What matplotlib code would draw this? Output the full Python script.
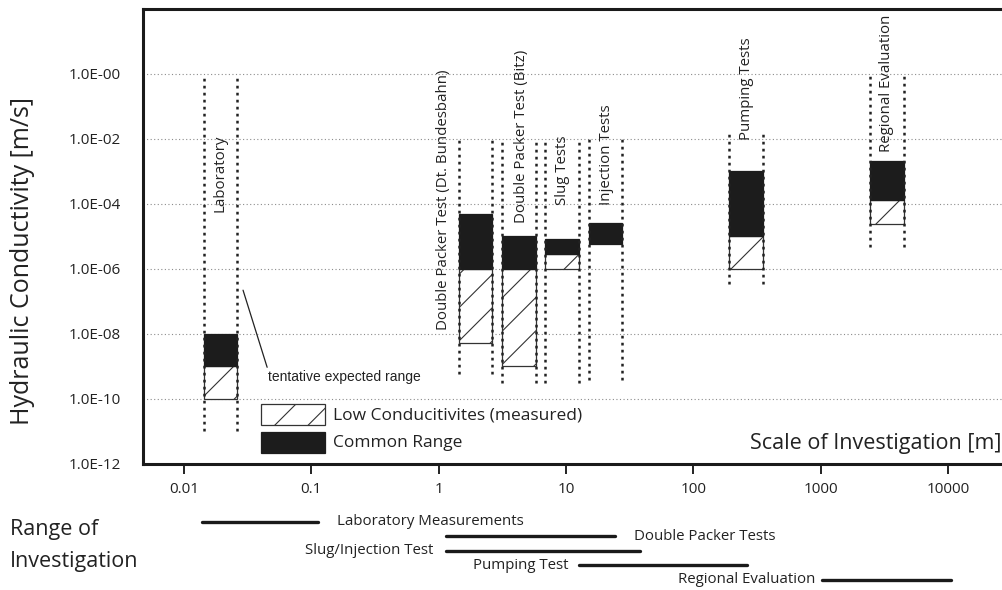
import matplotlib.pyplot as plt
from matplotlib.patches import Rectangle
import numpy as np

# methods shown in the chart (x: scale of investigation [m], y: hydraulic conductivity [m/s])
methods = [
    "Laboratory",
    "Double Packer Test (Dt. Bundesbahn)",
    "Double Packer Test (Bitz)",
    "Slug Tests",
    "Injection Tests",
    "Pumping Tests",
    "Regional Evaluation",
]
scale_min = [0.0143, 1.45, 3.15, 6.9, 15.2, 192, 2460]
scale_max = [0.0261, 2.61, 5.79, 12.6, 27.6, 352, 4500]
low_k_min = [1e-10, 5.2e-9, 1e-9, 1e-6, np.nan, 1e-6, 2.35e-5]
common_k_min = [1e-9, 1e-6, 1e-6, 2.9e-6, 5.9e-6, 1e-5, 1.3e-4]
common_k_max = [1e-8, 4.7e-5, 1e-5, 8e-6, 2.5e-5, 1e-3, 2.1e-3]
bracket_top = [1e0, 1e-2, 1e-2, 1e-2, 1e-2, 1.7e-2, 0.9]
bracket_bottom = [1e-11, 6e-10, 3e-10, 3e-10, 3.8e-10, 3.4e-7, 4.7e-6]

# range of investigation (lines below the chart)
range_names = [
    "Laboratory Measurements",
    "Double Packer Tests",
    "Slug/Injection Test",
    "Pumping Test",
    "Regional Evaluation",
]
range_min = [0.0139, 1.14, 1.14, 12.6, 1030]
range_max = [0.113, 24.3, 38, 267, 10600]

x_ticks = [0.01, 0.1, 1, 10, 100, 1000, 10000]
x_tick_labels = ["0.01", "0.1", "1", "10", "100", "1000", "10000"]
y_exponents = [0, -2, -4, -6, -8, -10, -12]
legend_labels = ["Low Conducitivites (measured)", "Common Range"]

# label layout (not data)
label_bottom = [5.5e-5, 1.3e-8, 2.5e-5, 9e-5, 9e-5, 8.9e-3, 3.8e-3]
label_dx = [0, -23, 2, 0, 1, 0, 0]
range_label_side = ["right", "right", "left", "left", "left"]
range_label_gap = [14, 14, 9, 7, 5]

FONT = "Open Sans"
BLACK = "#1c1c1c"
W, H = 1003, 590
plt.rcParams["font.family"] = [FONT, "DejaVu Sans"]
plt.rcParams["hatch.linewidth"] = 0.8

fig = plt.figure(figsize=(W / 100, H / 100), dpi=100)
ax = fig.add_axes([0.14287, 0.21356, 0.85713, 0.77034])
ax.set_xscale("log")
ax.set_yscale("log")
ax.set_xlim(10 ** -2.3197, 10 ** 4.4336)
ax.set_ylim(1e-12, 10 ** 1.97)

# grid at the labelled decades
for e in y_exponents[:-1]:
    ax.axhline(10.0 ** e, color="#8c8c8c", lw=0.8, ls=(0, (1, 2.2)), zorder=0)

for i, name in enumerate(methods):
    w = scale_max[i] - scale_min[i]
    if not np.isnan(low_k_min[i]):
        ax.bar(scale_min[i], common_k_min[i] - low_k_min[i], width=w, bottom=low_k_min[i],
               align="edge", facecolor="white", edgecolor="#333333", hatch="/", lw=0.9, zorder=2)
    ax.bar(scale_min[i], common_k_max[i] - common_k_min[i], width=w, bottom=common_k_min[i],
           align="edge", facecolor=BLACK, edgecolor=BLACK, lw=0.9, zorder=2)
    ax.vlines([scale_min[i], scale_max[i]], bracket_bottom[i], bracket_top[i],
              colors="#222222", lw=1.8, linestyles=(0, (1.1, 1.7)), zorder=3)
    xc = np.sqrt(scale_min[i] * scale_max[i])
    ax.annotate(name, xy=(xc, label_bottom[i]), xytext=(label_dx[i], 0),
                textcoords="offset points", rotation=90, ha="center", va="bottom",
                fontsize=10.8, color="#222222", zorder=4)

ax.annotate("tentative expected range", xy=(0.0291, 2.2e-7), xytext=(0.0457, 4.7e-10),
            ha="left", va="center", fontsize=10, family="Liberation Sans", color="#222222",
            arrowprops=dict(arrowstyle="-", lw=0.9, color="#222222",
                            shrinkA=0, shrinkB=0, relpos=(0, 1)))

ax.set_xticks(x_ticks)
ax.set_xticklabels(x_tick_labels)
ax.set_yticks([10.0 ** e for e in y_exponents])
ax.set_yticklabels([f"1.0E-{abs(e):02d}" for e in y_exponents])
ax.minorticks_off()
ax.tick_params(axis="x", direction="out", length=7, width=1.4, pad=6,
               labelsize=11, colors="#222222")
ax.tick_params(axis="y", length=0, pad=16, labelsize=11, colors="#222222")
for side in ["left", "top", "bottom"]:
    ax.spines[side].set_linewidth(2.2)
    ax.spines[side].set_color("#1a1a1a")
ax.spines["right"].set_visible(False)

ax.text(0.9977, 0.0323, "Scale of Investigation [m]", transform=ax.transAxes,
        ha="right", va="baseline", fontsize=15.5, color="#222222")

# legend swatches drawn by hand (pixel layout of the original)
swatch_styles = [
    dict(facecolor="white", edgecolor="#333333", hatch="/", lw=0.9),
    dict(facecolor=BLACK, edgecolor=BLACK, lw=0.9),
]
for k, (lab, style) in enumerate(zip(legend_labels, swatch_styles)):
    top = 404 + 28 * k
    fig.add_artist(Rectangle((261 / W, 1 - (top + 21) / H), 64 / W, 21 / H,
                             transform=fig.transFigure, **style))
    fig.text(333 / W, 1 - (top + 11) / H, lab, ha="left", va="center",
             fontsize=12.5, color="#222222")

fig.text(23 / W, 1 - 261 / H, "Hydraulic Conductivity [m/s]", rotation=90,
         ha="center", va="center", fontsize=18, color="#222222")

# range of investigation below the axis
ax2 = fig.add_axes([0.14287, 0.00466, 0.85713, 0.1229])
ax2.set_xscale("log")
ax2.set_xlim(ax.get_xlim())
ax2.set_ylim(len(range_names) - 0.5, -0.5)
ax2.axis("off")
for i, name in enumerate(range_names):
    ax2.hlines(i, range_min[i], range_max[i], colors="#1a1a1a", lw=2.4, capstyle="round")
    if range_label_side[i] == "right":
        ax2.annotate(name, xy=(range_max[i], i), xytext=(range_label_gap[i], 0),
                     textcoords="offset points", ha="left", va="center",
                     fontsize=10.8, color="#222222")
    else:
        ax2.annotate(name, xy=(range_min[i], i), xytext=(-range_label_gap[i], 0),
                     textcoords="offset points", ha="right", va="center",
                     fontsize=10.8, color="#222222")

fig.text(10 / W, 1 - 535 / H, "Range of", ha="left", va="baseline",
         fontsize=15.5, color="#222222")
fig.text(10 / W, 1 - 566.7 / H, "Investigation", ha="left", va="baseline",
         fontsize=15.5, color="#222222")

fig.savefig("out.png", dpi=100)
plt.close(fig)
